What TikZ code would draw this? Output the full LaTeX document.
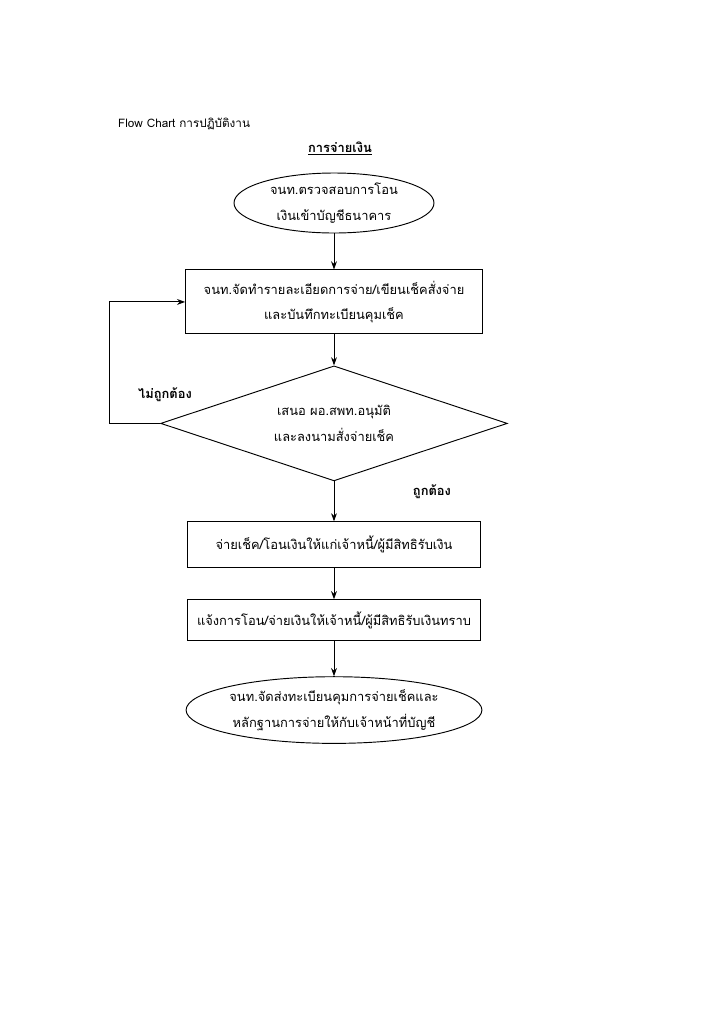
\documentclass[tikz,border=0pt]{standalone}
\usepackage{fontspec}
\newfontfamily\thaifont[Script=Thai]{Loma}
\usetikzlibrary{arrows.meta, positioning, shapes.geometric}

\tikzset{
    stepbox/.style={rectangle, draw, thick, align=center, inner sep=2pt},
    termbox/.style={ellipse, draw, thick, align=center, inner sep=0pt},
    decbox/.style={diamond, aspect=3, draw, thick, align=center, inner sep=0pt},
    flow/.style={-{Stealth[length=7pt, width=5pt]}, thick}
}

\begin{document}
\begin{tikzpicture}[x=0.03cm, y=-0.03cm,
    font={\thaifont\fontsize{11}{22}\selectfont}]
    \useasboundingbox (0,0) rectangle (724,1024);

    % Heading
    \node (title) [anchor=west] at (114,124) {\fontsize{10}{12}\selectfont Flow Chart การปฏิบัติงาน};
    \node (head) at (340,148) {\bfseries\underline{การจ่ายเงิน}};

    % Steps of the payment
    \node (start) [termbox, minimum width=6cm, minimum height=1.8cm] at (334,203)
        {จนท.ตรวจสอบการโอน\\เงินเข้าบัญชีธนาคาร};
    \node (prep) [stepbox, minimum width=8.9cm, minimum height=1.92cm, below=1.08cm of start]
        {จนท.จัดทำรายละเอียดการจ่าย/เขียนเช็คสั่งจ่าย\\และบันทึกทะเบียนคุมเช็ค};
    \node (approve) [decbox, minimum width=10.4cm, minimum height=3.45cm, below=0.93cm of prep]
        {เสนอ ผอ.สพท.อนุมัติ\\และลงนามสั่งจ่ายเช็ค};
    \node (pay) [stepbox, minimum width=8.8cm, minimum height=1.38cm, below=1.2cm of approve]
        {จ่ายเช็ค/โอนเงินให้แก่เจ้าหนี้/ผู้มีสิทธิรับเงิน};
    \node (notify) [stepbox, minimum width=8.8cm, minimum height=1.23cm, below=0.93cm of pay]
        {แจ้งการโอน/จ่ายเงินให้เจ้าหนี้/ผู้มีสิทธิรับเงินทราบ};
    \node (send) [termbox, minimum width=8.8cm, minimum height=2cm, below=1.05cm of notify]
        {จนท.จัดส่งทะเบียนคุมการจ่ายเช็คและ\\หลักฐานการจ่ายให้กับเจ้าหน้าที่บัญชี};

    % Labels of the decision
    \node (wrong) at (165,395) {\bfseries ไม่ถูกต้อง};
    \node (right) at (432,492) {\bfseries ถูกต้อง};

    % Arrows
    \draw[flow] (start) -- (prep);
    \draw[flow] (prep) -- (approve);
    \draw[flow] (approve) -- (pay);
    \draw[flow] (pay) -- (notify);
    \draw[flow] (notify) -- (send);
    \draw[flow] (approve.west) -- ++(-51,0) |- (prep.west);
\end{tikzpicture}
\end{document}
